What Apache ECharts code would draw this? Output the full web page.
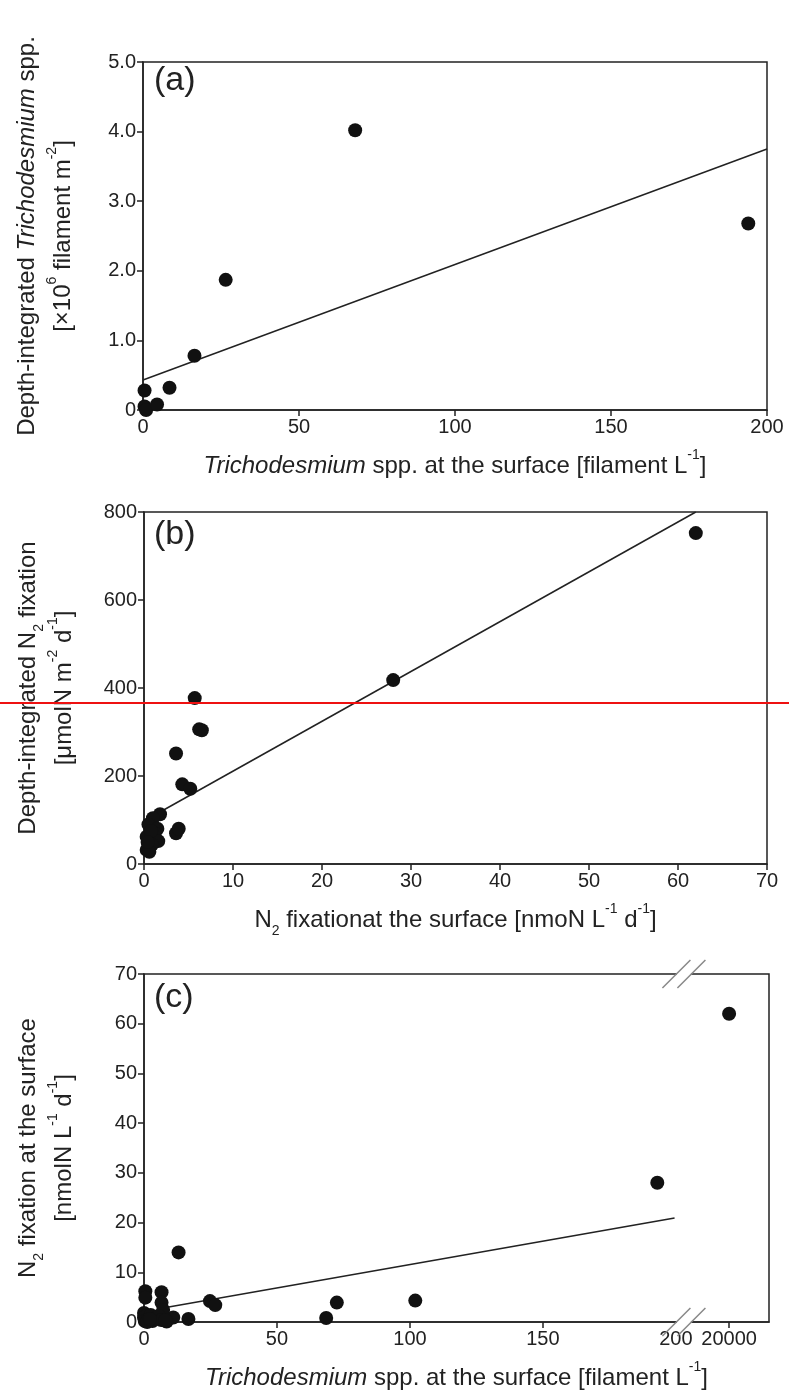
<!DOCTYPE html>
<html><head><meta charset="utf-8">
<script src="https://cdn.jsdelivr.net/npm/echarts@6/dist/echarts.min.js"></script>
<style>html,body{margin:0;padding:0;background:#fff}#c{width:789px;height:1399px}</style>
</head><body><div id="c"></div>
<script>
// ---- Panel (a): Trichodesmium surface vs depth-integrated ----
const aSurface = [0.5, 0.5, 1, 4.5, 8.5, 16.5, 26.5, 68, 194];
const aDepth   = [0.28, 0.05, 0.0, 0.08, 0.32, 0.78, 1.87, 4.02, 2.68];
const aFitX = [0, 200];
const aFitY = [0.43, 3.75];

// ---- Panel (b): N2 fixation surface vs depth-integrated ----
const bSurface = [62, 28, 5.7, 6.2, 6.5, 3.6, 4.3, 5.2, 1.8, 1.0, 0.5, 1.5, 1.2, 0.3, 1.6, 0.9, 0.3, 0.6, 3.6, 3.9, 0.8, 0.4];
const bDepth   = [752, 418, 377, 306, 304, 251, 181, 171, 113, 104, 90, 80, 70, 62, 52, 44, 32, 28, 70, 80, 75, 50];
const bFitX = [0.2, 62];
const bFitY = [100, 800];

// ---- Panel (c): Trichodesmium surface vs N2 fixation surface ----
const cTricho = [20000, 193, 13, 102, 72.5, 68.5, 24.8, 26.8, 16.7, 11, 8.5, 0.5, 0.5, 6.6, 6.6, 7.2, 0, 0, 0.3, 1.5, 2.5, 3.2, 4.5, 5.5, 6.5, 1.2, 2.2, 8];
const cN2     = [62, 28, 14, 4.3, 3.9, 0.8, 4.2, 3.4, 0.6, 0.9, 0.1, 6.2, 4.9, 6.0, 3.9, 2.4, 1.8, 0.9, 0.2, 0.4, 1.4, 0.2, 0.8, 1.2, 0.4, 0.0, 0.6, 0.3];
const cFitX = [5, 199.5];
const cFitY = [2.6, 20.9];
const cXLabels = [0, 50, 100, 150, 200, 20000];
const cXTicks  = [0, 50, 100, 150, 20000];

const F = '"Liberation Sans", Arial, sans-serif';
const INK = '#222';
const zip = (xs, ys) => xs.map((x, i) => [x, ys[i]]);

const rich = {
  n:   {fontSize: 24, fontFamily: F, color: INK, lineHeight: 36},
  i:   {fontSize: 24, fontFamily: F, color: INK, lineHeight: 36, fontStyle: 'italic'},
  sup: {fontSize: 14, fontFamily: F, color: INK, lineHeight: 26, verticalAlign: 'top'},
  sub: {fontSize: 14, fontFamily: F, color: INK, lineHeight: 19, verticalAlign: 'bottom'}
};

function axisBase() {
  return {
    axisLine: {show: true, onZero: false, lineStyle: {color: INK, width: 1.5}},
    axisTick: {show: true, inside: false, length: 6, lineStyle: {color: INK, width: 1.5}},
    axisLabel: {color: INK, fontSize: 20, fontFamily: F, margin: 7},
    splitLine: {show: false},
    nameTextStyle: {rich: rich, fontSize: 24, fontFamily: F, color: INK}
  };
}
function xAx(o) { return Object.assign(axisBase(), {type: 'value', nameLocation: 'middle', nameGap: 38}, o); }
function yAx(o) { return Object.assign(axisBase(), {type: 'value', nameLocation: 'middle', nameRotate: 90, nameGap: 62}, o); }

const grids = [
  {left: 143, top: 62, width: 624, height: 348},
  {left: 144, top: 512, width: 623, height: 352},
  {left: 144, top: 974, width: 625, height: 348}
].map(g => Object.assign({show: true, borderColor: INK, borderWidth: 1.5, backgroundColor: 'transparent'}, g));

const dotStyle = {color: '#111', opacity: 1};
function scatter(i, data) {
  return {type: 'scatter', xAxisIndex: i, yAxisIndex: i, data: data, symbolSize: 14, itemStyle: dotStyle, clip: false, silent: true, z: 3};
}
function fit(i, xs, ys) {
  return {type: 'line', xAxisIndex: i, yAxisIndex: i, data: zip(xs, ys), symbol: 'none', lineStyle: {color: INK, width: 1.5}, silent: true, z: 2};
}

const option = {
  animation: false,
  backgroundColor: '#fff',
  grid: grids,
  xAxis: [
    xAx({gridIndex: 0, min: 0, max: 200, interval: 50,
      name: '{i|Trichodesmium}{n| spp. at the surface [filament L}{sup|-1}{n|]}'}),
    xAx({gridIndex: 1, min: 0, max: 70, interval: 10,
      name: '{n|N}{sub|2}{n| fixationat the surface [nmoN L}{sup|-1}{n| d}{sup|-1}{n|]}'}),
    xAx({gridIndex: 2, min: 0, max: 20015,
      breaks: [{start: 200, end: 19980, gap: 0}],
      breakArea: {show: false},
      axisLabel: {color: INK, fontSize: 20, fontFamily: F, margin: 7, customValues: cXLabels, formatter: v => String(v)},
      axisTick: {show: true, inside: false, length: 6, lineStyle: {color: INK, width: 1.5}, customValues: cXTicks},
      name: '{i|Trichodesmium}{n| spp. at the surface [filament L}{sup|-1}{n|]}'})
  ],
  yAxis: [
    yAx({gridIndex: 0, min: 0, max: 5, interval: 1,
      axisLabel: {color: INK, fontSize: 20, fontFamily: F, margin: 7, formatter: v => v === 0 ? '0' : v.toFixed(1)},
      name: '{n|Depth-integrated }{i|Trichodesmium}{n| spp.}\n{n|[×10}{sup|6}{n| filament m}{sup|-2}{n|]}'}),
    yAx({gridIndex: 1, min: 0, max: 800, interval: 200,
      name: '{n|Depth-integrated N}{sub|2}{n| fixation}\n{n|[μmolN m}{sup|-2}{n| d}{sup|-1}{n|]}'}),
    yAx({gridIndex: 2, min: 0, max: 70, interval: 10,
      name: '{n|N}{sub|2}{n| fixation at the surface}\n{n|[nmolN L}{sup|-1}{n| d}{sup|-1}{n|]}'})
  ],
  series: [
    fit(0, aFitX, aFitY), scatter(0, zip(aSurface, aDepth)),
    fit(1, bFitX, bFitY), scatter(1, zip(bSurface, bDepth)),
    fit(2, cFitX, cFitY), scatter(2, zip(cTricho, cN2))
  ]
};

const chart = echarts.init(document.getElementById('c'), null, {renderer: 'canvas'});
chart.setOption(option);

// Panel letters, overlay line, and axis-break marks
const bx = chart.convertToPixel({xAxisIndex: 2}, 200) + 8;
const gTop = grids[2].top, gBot = grids[2].top + grids[2].height;
function breakMark(yc) {
  const els = [{type: 'rect', shape: {x: bx - 7, y: yc - 3, width: 14, height: 6}, style: {fill: '#fff'}, z: 50}];
  [-7.5, 7.5].forEach(dx => els.push({type: 'line', shape: {x1: bx + dx - 14, y1: yc + 14, x2: bx + dx + 14, y2: yc - 14},
    style: {stroke: '#888', lineWidth: 1.5}, z: 51}));
  return els;
}
const letter = (t, x, y) => ({type: 'text', left: x, top: y, style: {text: t, font: '34px ' + F, fill: INK}, z: 60});
chart.setOption({graphic: [
  letter('(a)', 154, 64),
  letter('(b)', 154, 518),
  letter('(c)', 154, 981),
  ...breakMark(gTop), ...breakMark(gBot),
  {type: 'line', shape: {x1: 0, y1: 703, x2: 789, y2: 703}, style: {stroke: '#ee1111', lineWidth: 2}, z: 100}
]});
</script></body></html>
